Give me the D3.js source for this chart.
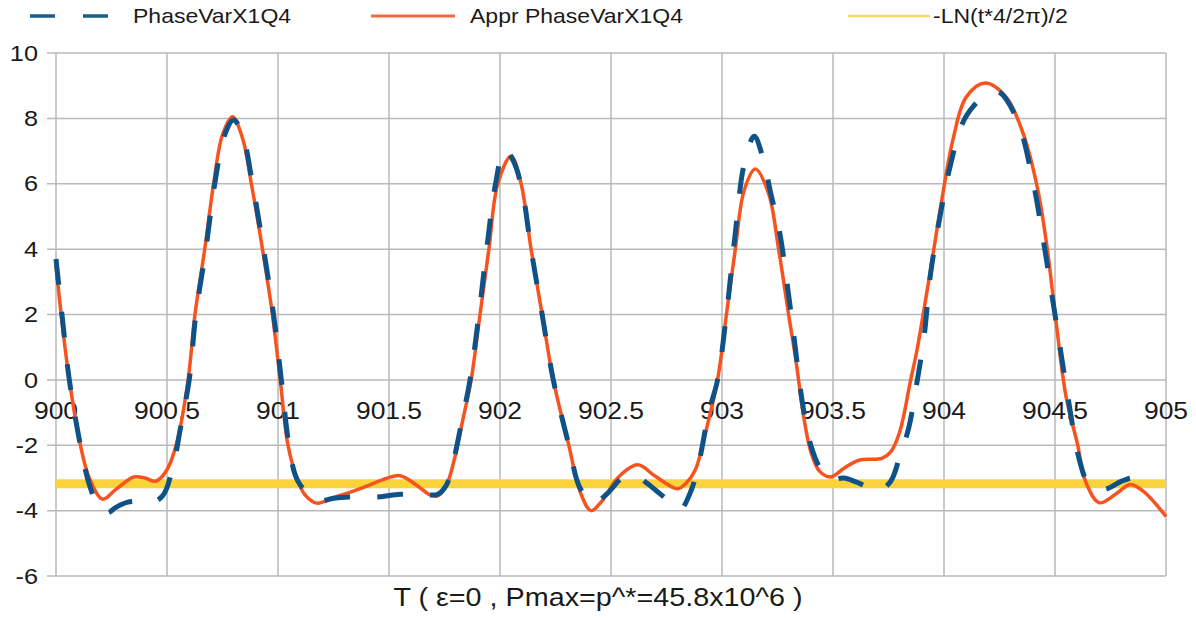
<!DOCTYPE html>
<html lang="en">
<head>
  <meta charset="utf-8">
  <title>PhaseVarX1Q4</title>
  <style>
    body { margin: 0; background: #fff; }
    svg { display: block; font-family: "Liberation Sans", Arial, sans-serif; }
  </style>
</head>
<body>
  <div id="chart"></div>

  <script src="https://d3js.org/d3.v7.min.js"></script>
  <script>
// tick labels
const xTicks = [900, 900.5, 901, 901.5, 902, 902.5, 903, 903.5, 904, 904.5, 905];
const yTicks = [-6, -4, -2, 0, 2, 4, 6, 8, 10];

// PhaseVarX1Q4 (dashed blue)
const phaseT = [900.00, 900.03, 900.06, 900.11, 900.15, 900.19, 900.23, 900.27, 900.32, 900.37,
  900.42, 900.48, 900.53, 900.56, 900.60, 900.63, 900.675, 900.715, 900.76, 900.80,
  900.84, 900.885, 900.935, 900.98, 901.015, 901.05, 901.09, 901.18, 901.25, 901.32,
  901.45, 901.55, 901.65, 901.72, 901.76, 901.79, 901.83, 901.865, 901.905, 901.94,
  901.98, 902.02, 902.06, 902.10, 902.14, 902.19, 902.24, 902.31, 902.36, 902.42,
  902.48, 902.55, 902.60, 902.66, 902.70, 902.76, 902.81, 902.86, 902.90, 902.94,
  902.98, 903.02, 903.06, 903.10, 903.145, 903.18, 903.22, 903.26, 903.30, 903.33,
  903.36, 903.40, 903.45, 903.49, 903.55, 903.63, 903.70, 903.76, 903.80, 903.84,
  903.88, 903.91, 903.94, 903.99, 904.03, 904.08, 904.13, 904.21, 904.25, 904.33,
  904.40, 904.445, 904.485, 904.525, 904.56, 904.61, 904.65, 904.72, 904.80, 904.85, 904.90];
const phaseV = [3.7, 1.8, 0.0, -2.0, -3.2, -3.85, -4.07, -3.9, -3.75, -3.72,
  -3.78, -3.55, -2.55, -1.5, 0.0, 2.0, 4.0, 6.0, 7.5, 7.95,
  7.5, 6.0, 4.0, 2.0, 0.0, -2.0, -3.1, -3.7, -3.62, -3.58,
  -3.58, -3.5, -3.5, -3.5, -3.2, -2.5, -1.2, 0.0, 2.0, 4.0,
  6.0, 7.05, 6.7, 5.8, 4.0, 2.0, 0.0, -2.0, -3.3, -3.77,
  -3.5, -3.0, -2.9, -3.15, -3.37, -3.7, -3.98, -3.4, -2.4, -1.0,
  0.0, 2.0, 4.5, 6.6, 7.45, 6.9, 5.7, 4.5, 2.6, 1.0,
  -0.6, -2.0, -2.8, -3.05, -3.0, -3.2, -3.42, -3.1, -2.35, -1.5,
  0.0, 1.3, 3.27, 5.3, 6.6, 7.8, 8.35, 8.8, 8.8, 7.95,
  6.1, 4.37, 2.65, 0.9, -0.6, -2.45, -3.15, -3.35, -3.1, -3.0, -3.1];

// Appr PhaseVarX1Q4 (orange)
const apprT = [900.00, 900.03, 900.06, 900.11, 900.15, 900.21, 900.27, 900.35, 900.40, 900.45,
  900.50, 900.545, 900.595, 900.626, 900.67, 900.71, 900.75, 900.795, 900.84, 900.88,
  900.93, 900.975, 901.01, 901.045, 901.085, 901.12, 901.175, 901.25, 901.32, 901.40,
  901.47, 901.55, 901.62, 901.68, 901.72, 901.76, 901.79, 901.83, 901.87, 901.91,
  901.95, 901.99, 902.05, 902.095, 902.14, 902.19, 902.24, 902.31, 902.36, 902.41,
  902.46, 902.53, 902.62, 902.70, 902.80, 902.84, 902.88, 902.93, 902.98, 903.02,
  903.06, 903.10, 903.15, 903.21, 903.255, 903.30, 903.335, 903.365, 903.40, 903.44,
  903.49, 903.55, 903.62, 903.72, 903.76, 903.80, 903.85, 903.878, 903.937, 903.99,
  904.04, 904.10, 904.185, 904.28, 904.356, 904.42, 904.464, 904.50, 904.55, 904.60,
  904.64, 904.70, 904.78, 904.84, 904.90, 905.00];
const apprV = [3.5, 1.6, 0.0, -2.0, -3.0, -3.65, -3.35, -2.97, -3.0, -3.1,
  -2.75, -1.9, 0.0, 2.0, 4.0, 6.0, 7.5, 8.05, 7.4, 6.0,
  4.0, 2.0, 0.0, -2.0, -3.0, -3.5, -3.77, -3.6, -3.45, -3.25,
  -3.06, -2.93, -3.2, -3.5, -3.55, -3.2, -2.55, -1.3, 0.0, 2.0,
  4.0, 6.0, 6.85, 6.0, 4.0, 2.0, 0.0, -2.0, -3.4, -4.0,
  -3.7, -3.0, -2.6, -2.95, -3.33, -3.15, -2.75, -1.5, 0.0, 2.0,
  4.0, 5.8, 6.45, 5.7, 4.0, 2.0, 0.5, -1.0, -2.2, -2.8,
  -2.97, -2.7, -2.45, -2.4, -2.2, -1.6, 0.0, 0.9, 3.27, 5.5,
  7.34, 8.65, 9.08, 8.65, 7.55, 5.9, 4.07, 2.05, -0.52, -1.93,
  -3.15, -3.76, -3.46, -3.2, -3.42, -4.18];

// -LN(t*4/2π)/2 (yellow)
const lnT = [900, 905];
const lnV = [-3.18, -3.18];

const width = 1196, height = 618;
const stretch = 1.15;   // source text is drawn horizontally wide

const x = d3.scaleLinear().domain([900, 905]).range([56, 1166]);
const y = d3.scaleLinear().domain([-6, 10]).range([576, 53]);

const svg = d3.select("#chart").append("svg")
    .attr("width", width)
    .attr("height", height);

const gridColor = "#b9b9b9";

// grid
svg.append("g").selectAll("line")
    .data(xTicks)
    .join("line")
    .attr("x1", d => x(d)).attr("x2", d => x(d))
    .attr("y1", y(10)).attr("y2", y(-6))
    .attr("stroke", gridColor).attr("stroke-width", 1.5);

svg.append("g").selectAll("line")
    .data(yTicks)
    .join("line")
    .attr("x1", x(900) - 9).attr("x2", x(905))
    .attr("y1", d => y(d)).attr("y2", d => y(d))
    .attr("stroke", gridColor).attr("stroke-width", 1.5);

// y tick labels
svg.append("g").selectAll("text")
    .data(yTicks)
    .join("text")
    .attr("transform", d => `translate(38,${y(d)}) scale(${stretch},1)`)
    .attr("text-anchor", "end")
    .attr("dy", "0.35em")
    .attr("font-size", 22)
    .attr("fill", "#1a1a1a")
    .text(d => d);

// x tick labels, under the zero line
svg.append("g").selectAll("text")
    .data(xTicks)
    .join("text")
    .attr("transform", d => `translate(${x(d)},${y(0) + 39}) scale(${stretch},1)`)
    .attr("text-anchor", "middle")
    .attr("font-size", 23)
    .attr("fill", "#1a1a1a")
    .text(d => d);

// axis title
svg.append("text")
    .attr("transform", `translate(598,606) scale(${stretch},1)`)
    .attr("text-anchor", "middle")
    .attr("font-size", 25)
    .attr("fill", "#1a1a1a")
    .text("T ( ε=0 , Pmax=p^*=45.8x10^6 )");

// series
const line = d3.line()
    .x(d => x(d[0]))
    .y(d => y(d[1]))
    .curve(d3.curveCatmullRom.alpha(0.5));

svg.append("path")
    .attr("d", line(d3.zip(lnT, lnV)))
    .attr("fill", "none")
    .attr("stroke", "#fbd33c")
    .attr("stroke-width", 9);

svg.append("path")
    .attr("d", line(d3.zip(apprT, apprV)))
    .attr("fill", "none")
    .attr("stroke", "#f7531f")
    .attr("stroke-width", 3.5);

svg.append("path")
    .attr("d", line(d3.zip(phaseT, phaseV)))
    .attr("fill", "none")
    .attr("stroke", "#0f5288")
    .attr("stroke-width", 5)
    .attr("stroke-dasharray", "26,27");

// legend
const legend = [
  { name: "PhaseVarX1Q4", color: "#1d5d8c", w: 3.5, dash: "25,28", x0: 30, x1: 110, tx: 133 },
  { name: "Appr PhaseVarX1Q4", color: "#f26a45", w: 3, dash: null, x0: 371, x1: 455, tx: 470 },
  { name: "-LN(t*4/2π)/2", color: "#f8da6a", w: 2.5, dash: null, x0: 848, x1: 930, tx: 933 }
];

const lg = svg.append("g").selectAll("g")
    .data(legend)
    .join("g");

lg.append("line")
    .attr("x1", d => d.x0).attr("x2", d => d.x1)
    .attr("y1", 16).attr("y2", 16)
    .attr("stroke", d => d.color)
    .attr("stroke-width", d => d.w)
    .attr("stroke-dasharray", d => d.dash);

lg.append("text")
    .attr("transform", d => `translate(${d.tx},23) scale(${stretch},1)`)
    .attr("font-size", 20)
    .attr("fill", "#1a1a1a")
    .text(d => d.name);
  </script>
</body>
</html>
